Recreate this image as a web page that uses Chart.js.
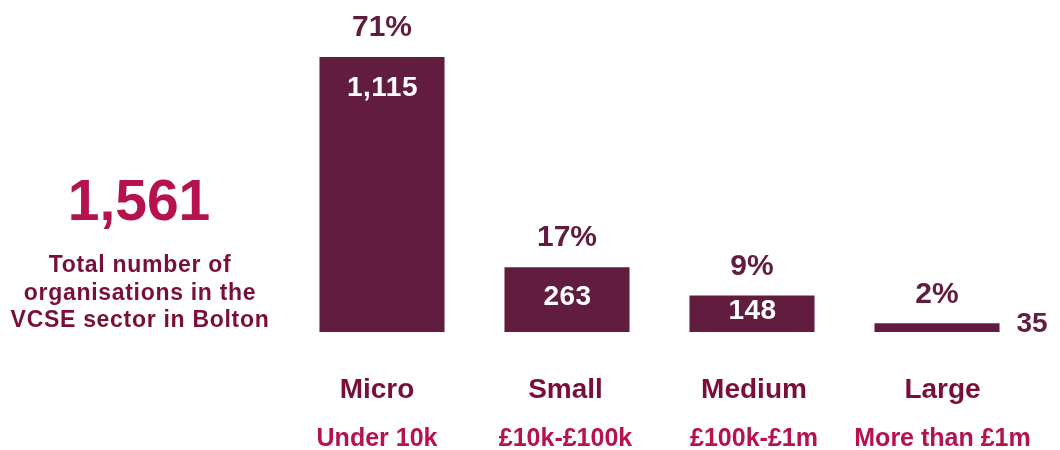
<!DOCTYPE html>
<html>
<head>
<meta charset="utf-8">
<script src="https://cdn.jsdelivr.net/npm/chart.js@4"></script>
<style>
  body { margin: 0; background: #fff; }
  #wrap { width: 1060px; height: 450px; }
</style>
</head>
<body>
<div id="wrap"><canvas id="chart" width="1060" height="450"></canvas></div>
<script>
var categories = ['Micro', 'Small', 'Medium', 'Large'];
var bands = ['Under 10k', '£10k-£100k', '£100k-£1m', 'More than £1m'];
var counts = [1115, 263, 148, 35];
var shares = ['71%', '17%', '9%', '2%'];
var totalCount = '1,561';
var totalText = ['Total number of', 'organisations in the', 'VCSE sector in Bolton'];

var barColour = '#621c40';
var darkColour = '#7a0e3b';
var pinkColour = '#b5124f';
var fontName = '"Liberation Sans", Arial, sans-serif';

function fmt(n) {
  return n.toString().replace(/\B(?=(\d{3})+(?!\d))/g, ',');
}

var labelPlugin = {
  id: 'labels',
  afterDatasetsDraw: function(chart) {
    var ctx = chart.ctx;
    var meta = chart.getDatasetMeta(0);
    var xScale = chart.scales.x;
    ctx.save();
    ctx.textAlign = 'center';
    ctx.textBaseline = 'middle';
    for (var i = 0; i < meta.data.length; i++) {
      var bar = meta.data[i];
      var top = bar.y;
      var base = bar.base;
      var h = base - top;
      // percentage above the bar
      ctx.fillStyle = barColour;
      ctx.font = 'bold 30px ' + fontName;
      ctx.fillText(shares[i], bar.x, top - 29);
      // count inside or beside
      ctx.font = 'bold 28px ' + fontName;
      if (h > 30) {
        ctx.fillStyle = '#ffffff';
        ctx.letterSpacing = '0.5px';
        ctx.fillText(fmt(counts[i]), bar.x + 0.5, Math.min(top + 31, (top + base) / 2 - 2));
        ctx.letterSpacing = '0px';
      } else {
        ctx.fillStyle = barColour;
        ctx.textAlign = 'left';
        ctx.fillText(fmt(counts[i]), bar.x + bar.width / 2 + 17, top + 1);
        ctx.textAlign = 'center';
      }
      // category labels under the chart (slightly wider spread than the bars)
      var cx = xScale.getPixelForValue(i) - 5 + 3.5 * i;
      ctx.fillStyle = darkColour;
      ctx.font = 'bold 28px ' + fontName;
      ctx.fillText(categories[i], cx, 390);
      ctx.fillStyle = pinkColour;
      ctx.font = 'bold 25px ' + fontName;
      ctx.fillText(bands[i], cx, 439);
    }
    // total on the left
    ctx.fillStyle = pinkColour;
    ctx.font = 'bold 57px ' + fontName;
    ctx.fillText(totalCount, 139, 204);
    ctx.fillStyle = darkColour;
    ctx.font = 'bold 23px ' + fontName;
    ctx.letterSpacing = '0.7px';
    for (var j = 0; j < totalText.length; j++) {
      ctx.fillText(totalText[j], 140, 266 + j * 27.5);
    }
    ctx.letterSpacing = '0px';
    ctx.restore();
  }
};

new Chart(document.getElementById('chart').getContext('2d'), {
  type: 'bar',
  data: {
    labels: categories,
    datasets: [{
      data: counts,
      backgroundColor: barColour,
      borderWidth: 0,
      categoryPercentage: 1,
      barPercentage: 0.676
    }]
  },
  options: {
    responsive: false,
    animation: false,
    layout: { padding: { left: 289.5, right: 30.5, top: 20, bottom: 118 } },
    plugins: { legend: { display: false }, tooltip: { enabled: false } },
    scales: {
      x: { display: false },
      y: { display: false, min: 0, max: 1265 }
    }
  },
  plugins: [labelPlugin]
});
</script>
</body>
</html>
